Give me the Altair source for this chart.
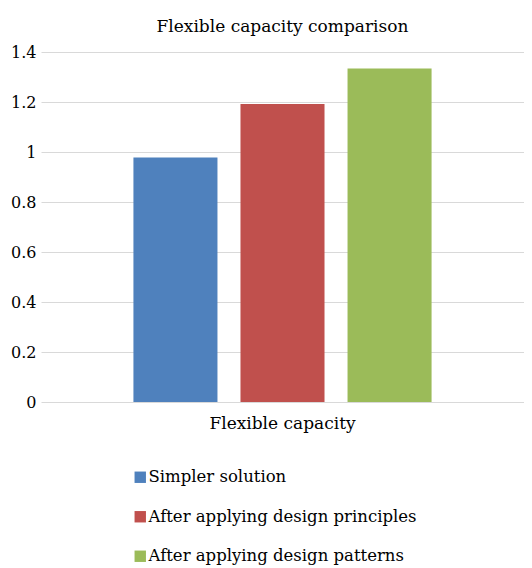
import altair as alt
import pandas as pd

categories = ["Flexible capacity", "Flexible capacity", "Flexible capacity"]
series = ["Simpler solution", "After applying design principles", "After applying design patterns"]
values = [0.978, 1.192, 1.334]
colors = ["#4F81BD", "#C0504D", "#9BBB59"]
y_ticks = [0, 0.2, 0.4, 0.6, 0.8, 1.0, 1.2, 1.4]

df = pd.DataFrame({"category": categories, "series": series, "value": values})

FONT = "DejaVu Serif"

chart = alt.Chart(df).mark_bar().encode(
    x=alt.X("category:N", title=None,
            scale=alt.Scale(paddingInner=0, paddingOuter=0.31),
            axis=alt.Axis(labelAngle=0, domain=False, ticks=False, labelPadding=13,
                          labelFontSize=17, labelFont=FONT, labelColor="#000000", grid=False)),
    xOffset=alt.XOffset("series:N", sort=series,
                        scale=alt.Scale(paddingInner=0.215, paddingOuter=0)),
    y=alt.Y("value:Q", title=None,
            scale=alt.Scale(domain=[0, 1.4], nice=False),
            axis=alt.Axis(values=y_ticks, format="~g", domain=False, ticks=False,
                          labelPadding=5, labelFontSize=16, labelFont=FONT,
                          labelColor="#000000", gridColor="#d9d9d9", gridWidth=1)),
    color=alt.Color("series:N", sort=series, title=None,
                    scale=alt.Scale(domain=series, range=colors),
                    legend=alt.Legend(orient="none", legendX=91, legendY=417,
                                      direction="vertical", symbolType="square",
                                      symbolSize=130, symbolStrokeWidth=0,
                                      labelFont=FONT, labelFontSize=16.5,
                                      labelColor="#000000", labelOffset=0, padding=0,
                                      rowPadding=22.5, labelLimit=400)),
).properties(
    width=483,
    height=350,
    title=alt.TitleParams("Flexible capacity comparison", font=FONT, fontSize=17,
                          fontWeight="normal", color="#000000", anchor="middle", offset=8),
    autosize=alt.AutoSizeParams(type="none"),
    padding={"left": 33, "top": 44, "right": 0, "bottom": 168},
).configure_view(stroke=None)

chart.save("out.html", embed_options={"renderer": "svg", "actions": False})
